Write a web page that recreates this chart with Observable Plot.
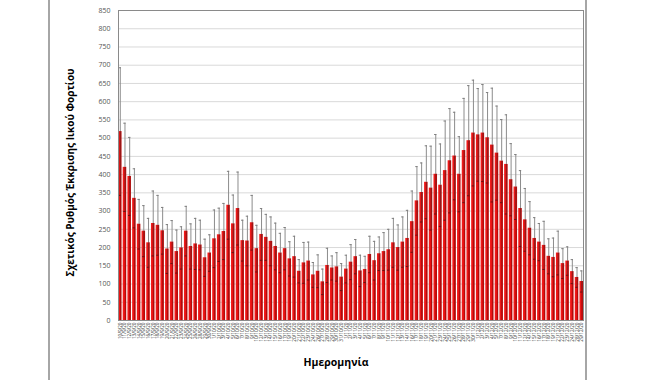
<!DOCTYPE html>
<html><head><meta charset="utf-8">
<script src="https://cdn.jsdelivr.net/npm/d3@7"></script>
<script src="https://cdn.jsdelivr.net/npm/@observablehq/plot@0.6"></script>
<style>
body{margin:0;background:#fff;}
#wrap{position:relative;width:660px;height:380px;overflow:hidden;}
#wrap svg{position:absolute;left:0;top:0;}
.vline{position:absolute;top:0;width:2px;height:380px;background:#a6a6a6;}
</style></head><body>
<div id="wrap"></div>
<script>
const dates = [
"10/9/20","11/9/20","12/9/20","13/9/20","14/9/20","15/9/20","16/9/20","17/9/20","18/9/20","19/9/20",
"20/9/20","21/9/20","22/9/20","23/9/20","24/9/20","25/9/20","26/9/20","28/9/20","29/9/20","30/9/20",
"1/10/20","2/10/20","3/10/20","4/10/20","5/10/20","6/10/20","7/10/20","8/10/20","9/10/20","10/10/20",
"12/10/20","13/10/20","14/10/20","15/10/20","16/10/20","17/10/20","19/10/20","20/10/20","21/10/20","22/10/20",
"23/10/20","24/10/20","26/10/20","27/10/20","28/10/20","29/10/20","30/10/20","31/10/20",
"1/11/20","2/11/20","3/11/20","4/11/20","5/11/20","6/11/20","7/11/20","8/11/20","9/11/20","10/11/20",
"11/11/20","12/11/20","13/11/20","14/11/20","16/11/20","17/11/20","18/11/20","19/11/20","20/11/20","21/11/20",
"23/11/20","24/11/20","25/11/20","26/11/20","27/11/20","28/11/20","29/11/20","30/11/20",
"1/12/20","2/12/20","3/12/20","4/12/20","5/12/20","7/12/20","8/12/20","9/12/20","10/12/20","11/12/20",
"12/12/20","14/12/20","15/12/20","16/12/20","17/12/20","18/12/20","19/12/20","21/12/20","22/12/20","23/12/20",
"24/12/20","28/12/20","29/12/20"
];
const values = [
518,420,395,335,264,245,213,266,261,246,
196,215,189,199,245,203,210,207,172,185,
224,235,244,316,265,307,219,218,268,197,
236,228,217,203,185,197,169,175,135,158,
163,125,135,106,151,144,147,119,141,160,
175,136,140,181,164,183,189,194,213,200,
215,225,271,328,351,379,363,401,371,411,
438,451,401,466,493,514,509,514,501,481,
459,437,428,386,366,307,276,253,225,215,
206,176,173,185,156,163,134,118,107
];
const errors = [
175,121,107,81,68,70,67,89,82,64,
67,59,59,58,68,62,70,68,51,50,
79,73,77,93,79,100,56,68,75,64,
71,63,67,64,54,58,47,56,32,56,
52,34,45,35,47,33,39,37,38,48,
47,43,36,50,53,46,52,56,67,62,
69,77,84,94,81,100,115,109,113,136,
143,120,103,143,151,145,127,133,124,156,
129,114,136,99,89,104,86,73,57,51,
66,48,53,60,41,39,33,27,29
];
const yTicks = [0,50,100,150,200,250,300,350,400,450,500,550,600,650,700,750,800,850];
const yLabel = "Σχετικός Ρυθμός Έκκρισης Ιικού Φορτίου";
const xLabel = "Ημερομηνία";

const rows = dates.map((d, i) => ({date: d, value: values[i], lo: values[i] - errors[i], hi: values[i] + errors[i]}));

const chart = Plot.plot({
  width: 660, height: 380,
  marginLeft: 118, marginRight: 77, marginTop: 10, marginBottom: 60,
  style: {fontFamily: "'Open Sans', sans-serif", background: "transparent", overflow: "visible"},
  x: {type: "band", domain: dates, paddingInner: 0.25, paddingOuter: 0, axis: null},
  y: {domain: [0, 850], axis: null},
  marks: [
    Plot.gridY(yTicks.filter(t => t > 0 && t < 850), {stroke: "#d9d9d9", strokeOpacity: 1}),
    Plot.barY(rows, {x: "date", y: "value", fill: "#d81010"}),
    Plot.ruleX(rows, {x: "date", y1: "value", y2: "hi", stroke: "#8c8c8c", strokeWidth: 1}),
    Plot.ruleX(rows, {x: "date", y1: "lo", y2: "value", stroke: "#8a2020", strokeWidth: 0.8}),
    Plot.tickY(rows, {x: "date", y: "hi", stroke: "#7f7f7f", strokeWidth: 1, inset: 0.6}),
    Plot.tickY(rows, {x: "date", y: "lo", stroke: "#6a1010", strokeWidth: 1, inset: 0.6}),
    Plot.frame({stroke: "#8a8a8a"}),
    Plot.axisY(yTicks, {tickSize: 0, tickPadding: 8, fontSize: 7, fill: "#555", label: null}),
    Plot.axisX({tickSize: 0, tickPadding: 2, tickRotate: -90, fontSize: 4.6, fill: "#333", label: null}),
    Plot.text([yLabel], {text: d => d, frameAnchor: "left", textAnchor: "middle", rotate: -90, dx: -48, dy: 7, fontSize: 10, fontWeight: "bold", fill: "#000"}),
    Plot.text([xLabel], {text: d => d, frameAnchor: "bottom", textAnchor: "middle", dx: -15, dy: 45, fontSize: 10.5, fontWeight: "bold", fill: "#000"})
  ]
});

const svg = d3.select(chart);
const defs = svg.insert("defs", ":first-child");
const grad = defs.append("linearGradient").attr("id", "barGrad")
  .attr("x1", "0").attr("x2", "1").attr("y1", "0").attr("y2", "0");
[["0", "#f42020"], ["0.5", "#e81212"], ["0.62", "#b00a0a"], ["1", "#b80c0c"]]
  .forEach(([o, c]) => grad.append("stop").attr("offset", o).attr("stop-color", c));
svg.selectAll('g[aria-label="bar"] rect').attr("fill", "url(#barGrad)");

const wrap = document.getElementById("wrap");
wrap.appendChild(chart);
for (const left of [48, 585]) {
  const v = document.createElement("div");
  v.className = "vline";
  v.style.left = left + "px";
  wrap.appendChild(v);
}
</script>
</body></html>
